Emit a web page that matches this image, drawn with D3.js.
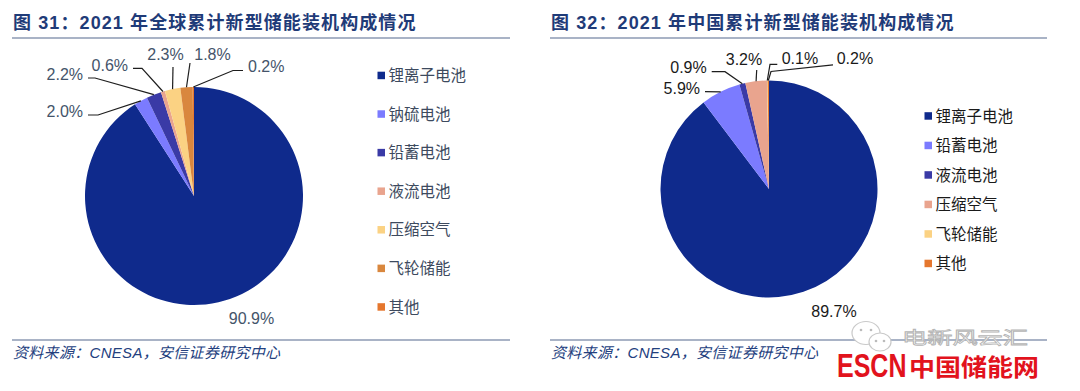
<!DOCTYPE html>
<html><head><meta charset="utf-8">
<script src="https://cdn.jsdelivr.net/npm/d3@7/dist/d3.min.js"></script>
<style>
html,body{margin:0;padding:0;background:#fff;}
svg{display:block;}
</style></head>
<body><svg id="c" width="1080" height="391"></svg>
<script>
// ---------- data ----------
const titleLeft = "图 31：2021 年全球累计新型储能装机构成情况";
const titleRight = "图 32：2021 年中国累计新型储能装机构成情况";
const sourceText = "资料来源：CNESA，安信证券研究中心";

const globalCategories = ["锂离子电池","钠硫电池","铅蓄电池","液流电池","压缩空气","飞轮储能","其他"];
const globalValues = [90.9, 2.0, 2.2, 0.6, 2.3, 1.8, 0.2];
const globalLabels = ["90.9%","2.0%","2.2%","0.6%","2.3%","1.8%","0.2%"];

const chinaCategories = ["锂离子电池","铅蓄电池","液流电池","压缩空气","飞轮储能","其他"];
const chinaValues = [89.7, 5.9, 0.9, 3.2, 0.1, 0.2];
const chinaLabels = ["89.7%","5.9%","0.9%","3.2%","0.1%","0.2%"];

// ---------- styles / layout ----------
const globalColors = ["#0F2A8C","#7B7BFF","#3A3AA6","#E9A48E","#FBD283","#D9873E","#E5772E"];
const chinaColors  = ["#0F2A8C","#7B7BFF","#3A3AA6","#E9A48E","#FBD283","#E5772E"];

// label layout relative to pie centre: [textX, textY, anchor, lineStartX, lineStartY, elbowX, elbowY]
const globalLabelLayout = [
  [57.5, 128, "middle", null, null, null, null],
  [-111, -79.5, "end", -106, -81, -96, -81],
  [-111, -116.5, "end", -106, -118, -99, -118],
  [-66, -125.3, "end", -61, -127.7, -52, -127.7],
  [-28.5, -136.5, "middle", -21, -129, null, null],
  [18.5, -136.5, "middle", -4, -133, null, null],
  [54, -124, "start", 49, -125.5, 39, -125.5]
];
const chinaLabelLayout = [
  [65, 128, "middle", null, null, null, null],
  [-69, -95.5, "end", -64, -97.3, null, null],
  [-62.3, -116.3, "end", -57.3, -117.3, -44, -117.3],
  [-25, -124.5, "middle", -12.3, -119, null, null],
  [12.7, -125.5, "start", 8.3, -124.7, 1, -124.7],
  [67.7, -125.5, "start", 64, -124.2, 2, -117.5]
];

const svg = d3.select("#c");
const CJK = "'Noto Sans CJK SC','Liberation Sans',sans-serif";
const LAT = "'Liberation Sans',Arial,'Noto Sans CJK SC',sans-serif";

function panel(opt){
  const g = svg.append("g");
  // title
  g.append("text").attr("x", opt.x0 + 1).attr("y", 29)
    .attr("font-family", LAT).attr("font-weight", "bold").attr("font-size", 18)
    .attr("letter-spacing", 1.1)
    .attr("fill", "#1F3B78").text(opt.title);
  g.append("line").attr("x1", opt.x0).attr("x2", opt.x1).attr("y1", 38).attr("y2", 38)
    .attr("stroke", "#8D9AB3").attr("stroke-width", 1.6);
  g.append("line").attr("x1", opt.x0).attr("x2", opt.x1).attr("y1", 340).attr("y2", 340)
    .attr("stroke", "#8D9AB3").attr("stroke-width", 1.6);
  g.append("text").attr("x", opt.x0 + 1).attr("y", 358)
    .attr("font-family", LAT).attr("font-style", "italic").attr("font-size", 15)
    .attr("letter-spacing", 0.3)
    .attr("fill", "#23407E").text(sourceText);

  // pie
  const pie = d3.pie().sort(null).value(d => d)(opt.values);
  const arc = d3.arc().innerRadius(0).outerRadius(opt.r);
  const edge = d3.arc().innerRadius(opt.r).outerRadius(opt.r);
  const pg = g.append("g").attr("transform", `translate(${opt.cx},${opt.cy})`);
  pg.selectAll("path.s").data(pie).join("path").attr("class", "s")
    .attr("d", arc).attr("fill", (d, i) => opt.colors[i]);

  pie.forEach((d, i) => {
    const L = opt.layout[i];
    if (L[3] !== null) {
      const p0 = edge.centroid(d);
      const pts = [[L[3], L[4]]];
      if (L[5] !== null) pts.push([L[5], L[6]]);
      pts.push(p0);
      pg.append("path").attr("d", d3.line()(pts)).attr("fill", "none")
        .attr("stroke", "#1E1E1E").attr("stroke-width", 1.2);
    }
    pg.append("text").attr("x", L[0]).attr("y", L[1]).attr("text-anchor", L[2])
      .attr("font-family", LAT).attr("font-size", 16).attr("fill", opt.labelColor)
      .text(opt.labels[i]);
  });

  // legend
  const ly = d3.scalePoint().domain(opt.categories).range(opt.legendRange);
  const lg = g.append("g");
  opt.categories.forEach((c, i) => {
    lg.append("rect").attr("x", opt.legendX).attr("y", ly(c) - 3.8).attr("width", 7.5).attr("height", 7.5)
      .attr("fill", opt.colors[i]);
    lg.append("text").attr("x", opt.legendX + 11).attr("y", ly(c) + 5.6)
      .attr("font-family", CJK).attr("font-size", 15.5).attr("fill", opt.legendColor).text(c);
  });
}

panel({x0: 12, x1: 510, title: titleLeft, cx: 194, cy: 196, r: 109,
  values: globalValues, labels: globalLabels, categories: globalCategories, colors: globalColors,
  layout: globalLabelLayout, labelColor: "#44546A", legendColor: "#3D4A5E",
  legendX: 377.5, legendRange: [75.5, 307]});
panel({x0: 550, x1: 1047, title: titleRight, cx: 769, cy: 189, r: 108.5,
  values: chinaValues, labels: chinaLabels, categories: chinaCategories, colors: chinaColors,
  layout: chinaLabelLayout, labelColor: "#1A1A1A", legendColor: "#1A1A1A",
  legendX: 924.5, legendRange: [116, 263.5]});

// watermark
const wm = svg.append("g");
wm.append("ellipse").attr("cx", 866).attr("cy", 333).attr("rx", 14).attr("ry", 11.5)
  .attr("fill", "#fff").attr("stroke", "#c9c9c9").attr("stroke-width", 1.2);
wm.append("ellipse").attr("cx", 880).attr("cy", 342).attr("rx", 11).attr("ry", 9)
  .attr("fill", "#fff").attr("stroke", "#c9c9c9").attr("stroke-width", 1.2);
[[861,330],[871,330],[876,341],[884,341]].forEach(p =>
  wm.append("circle").attr("cx", p[0]).attr("cy", p[1]).attr("r", 1.3).attr("fill", "#bbb"));
wm.append("text").attr("x", 902).attr("y", 344).attr("font-family", CJK).attr("font-size", 17)
  .attr("fill", "#fff").attr("stroke", "#b5b5b5").attr("stroke-width", 0.8)
  .attr("textLength", 126).attr("lengthAdjust", "spacingAndGlyphs").text("电新风云汇");
wm.append("text").attr("transform", "translate(837,377) scale(1,1.32)")
  .attr("x", 0).attr("y", 0).attr("font-family", LAT).attr("font-weight", "bold")
  .attr("font-size", 25).attr("fill", "#E2131D").text("ESCN");
wm.append("text").attr("x", 909).attr("y", 376).attr("font-family", CJK).attr("font-weight", "bold")
  .attr("font-size", 24).attr("fill", "#E2131D")
  .attr("textLength", 130).attr("lengthAdjust", "spacingAndGlyphs").text("中国储能网");
</script></body></html>
